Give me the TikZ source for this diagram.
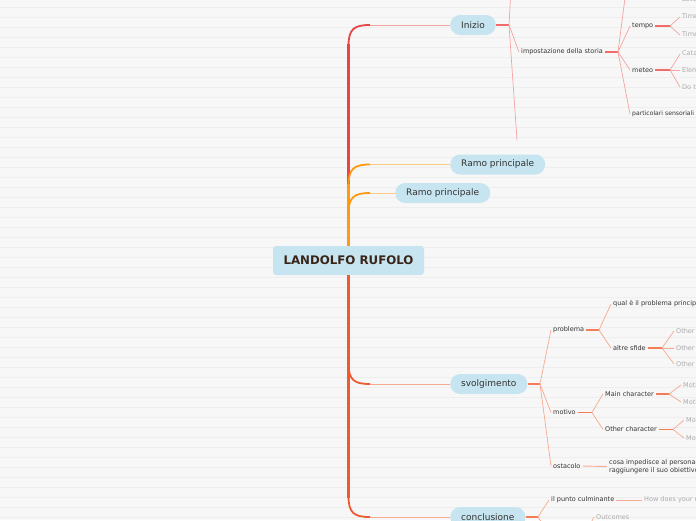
\documentclass[tikz,border=0pt]{standalone}
\usepackage{fontspec}
\setmainfont{DejaVu Sans}
\definecolor{bg}{HTML}{F7F7F7}
\definecolor{stripe}{HTML}{EEEEEE}
\definecolor{nodeblue}{HTML}{C6E5F0}
\definecolor{txt}{HTML}{333333}
\definecolor{ctxt}{HTML}{3A2418}
\definecolor{gtxt}{HTML}{ABABAB}
\definecolor{tred}{HTML}{E84545}
\definecolor{lred}{HTML}{F5A3A0}
\definecolor{sred}{HTML}{F26B6B}
\definecolor{torange}{HTML}{FF9A10}
\definecolor{lorange}{HTML}{FFCB80}
\definecolor{tor}{HTML}{F05A30}
\definecolor{lor}{HTML}{F8AA90}
\definecolor{sor}{HTML}{F47C56}
\begin{document}
\begin{tikzpicture}[x=1pt,y=-1pt,
  centre/.style={fill=nodeblue, text=ctxt, font=\bfseries\fontsize{11.8}{13}\selectfont, minimum width=151pt, minimum height=29pt, inner sep=0pt, rounded corners=3pt},
  mainnode/.style={anchor=west, fill=nodeblue, text=txt, font=\fontsize{9}{10.8}\selectfont, inner xsep=11pt, inner ysep=0pt, minimum height=20pt, rounded corners=10pt},
  sub/.style={anchor=west, inner xsep=2pt, inner ysep=1pt, text=txt, font=\fontsize{6.5}{7.8}\selectfont, align=left},
  leaf/.style={sub, text=gtxt},
  trunkline/.style={line width=3.6pt},
  curveline/.style={line width=1.8pt},
  twig/.style={line width=0.9pt},
  stubline/.style={line width=1.3pt},
  fanline/.style={line width=0.7pt}
]
\useasboundingbox (0,0) rectangle (696,520);
\clip (0,0) rectangle (696,520);
\fill[bg] (0,0) rectangle (696,520);
\foreach \k in {0,...,51} {\fill[stripe] (0,6.7+10*\k) rectangle (696,8+10*\k);}

% nodes
\node[centre] (c) at (348.5,260.5) {LANDOLFO RUFOLO};
\node[mainnode] (inizio) at (450,25) {Inizio};
\node[mainnode] (ramoA) at (450,164.5) {Ramo principale};
\node[mainnode] (ramoB) at (395,193) {Ramo principale};
\node[mainnode] (svolg) at (450,384) {svolgimento};
\node[mainnode] (concl) at (450,517) {conclusione};

% main branches
\coordinate (bI) at (348.5,44);
\coordinate (hI) at (370,25);
\draw[tred,trunkline] (c.north -| bI) -- (bI);
\draw[tred,curveline] (348.5,46) .. controls (348.5,29) and (354,25) .. (hI);
\draw[lred,twig] (hI) -- (inizio.west);

\coordinate (bA) at (348.5,184);
\coordinate (hA) at (370,164.5);
\draw[torange,trunkline] (c.north -| bA) -- (bA);
\draw[torange,curveline] (348.5,186) .. controls (348.5,168.5) and (354,164.5) .. (hA);
\draw[lorange,twig] (hA) -- (ramoA.west);

\coordinate (bB) at (348.5,212);
\coordinate (hB) at (370,193);
\draw[torange,trunkline] (c.north -| bB) -- (bB);
\draw[torange,curveline] (348.5,214) .. controls (348.5,197) and (354,193) .. (hB);
\draw[lorange,twig] (hB) -- (ramoB.west);

\coordinate (bS) at (348.5,365);
\coordinate (hS) at (370,384);
\draw[tor,trunkline] (c.south -| bS) -- (bS);
\draw[tor,curveline] (348.5,363) .. controls (348.5,380) and (354,384) .. (hS);
\draw[lor,twig] (hS) -- (svolg.west);

\coordinate (bC) at (348.5,498);
\coordinate (hC) at (370,517);
\draw[tor,trunkline] (c.south -| bC) -- (bC);
\draw[tor,curveline] (348.5,496) .. controls (348.5,513) and (354,517) .. (hC);
\draw[lor,twig] (hC) -- (concl.west);

% ---------- Inizio subtree
\node[sub] (impost) at (519,52) {impostazione della storia};
\node[sub] (tempo) at (630,26) {tempo};
\node[sub] (meteo) at (630,70) {meteo};
\node[sub, font=\fontsize{6.1}{7.3}\selectfont] (partic) at (630,114) {particolari sensoriali};
\node[leaf] (loca) at (680,-1) {Location};
\node[leaf] (timeA) at (680,17) {Time period};
\node[leaf] (timeB) at (680,35) {Time of day};
\node[leaf] (cata) at (680,54) {Catastrophes};
\node[leaf] (elem) at (680,70) {Elements};
\node[leaf] (dot) at (680,87) {Do the weather};

\coordinate (j1) at (509,25);
\coordinate (t1) at (510.5,-2);
\coordinate (e1) at (517,140);
\draw[sred,stubline] (inizio.east) -- (j1);
\draw[lred,fanline] (j1) -- (t1);
\draw[lred,fanline] (j1) -- (impost.west);
\draw[lred,fanline] (j1) -- (e1);

\coordinate (j2) at (618,52);
\coordinate (t2) at (625,-2);
\draw[sred,stubline] (impost.east) -- (j2);
\draw[lred,fanline] (j2) -- (t2);
\draw[lred,fanline] (j2) -- (tempo.west);
\draw[lred,fanline] (j2) -- (meteo.west);
\draw[lred,fanline] (j2) -- (partic.west);

\coordinate (j0) at (670,-18);
\draw[lred,fanline] (j0) -- (loca.west);

\coordinate (j3) at (670,26);
\draw[sred,stubline] (tempo.east) -- (j3);
\draw[lred,fanline] (j3) -- (timeA.west);
\draw[lred,fanline] (j3) -- (timeB.west);

\coordinate (j4) at (670,70);
\draw[sred,stubline] (meteo.east) -- (j4);
\draw[lred,fanline] (j4) -- (cata.west);
\draw[lred,fanline] (j4) -- (elem.west);
\draw[lred,fanline] (j4) -- (dot.west);

% ---------- Svolgimento subtree
\node[sub] (probl) at (551,330) {problema};
\node[sub] (motivo) at (551,412.5) {motivo};
\node[sub] (ostac) at (551,466) {ostacolo};
\node[sub] (qual) at (611,304) {qual è il problema principale?};
\node[sub] (altre) at (611,348) {altre sfide};
\node[leaf] (othA) at (674,331) {Other};
\node[leaf] (othB) at (674,348) {Other};
\node[leaf] (othC) at (674,364) {Other};
\node[sub] (mainc) at (603,394) {Main character};
\node[sub] (otherc) at (603,429.5) {Other character};
\node[leaf] (motA) at (681,385) {Motivation};
\node[leaf] (motB) at (681,402) {Motivation};
\node[leaf] (motC) at (684,420) {Motivation};
\node[leaf] (motD) at (684,438) {Motivation};
\node[sub] (cosa) at (607,466.5) {cosa impedisce al personaggio di\\raggiungere il suo obiettivo?};

\coordinate (j5) at (540,384);
\draw[sor,stubline] (svolg.east) -- (j5);
\draw[lor,fanline] (j5) -- (probl.west);
\draw[lor,fanline] (j5) -- (motivo.west);
\draw[lor,fanline] (j5) -- (ostac.west);

\coordinate (j6) at (599,330);
\draw[sor,stubline] (probl.east) -- (j6);
\draw[lor,fanline] (j6) -- (qual.west);
\draw[lor,fanline] (j6) -- (altre.west);

\coordinate (j7) at (662,348);
\draw[sor,stubline] (altre.east) -- (j7);
\draw[lor,fanline] (j7) -- (othA.west);
\draw[lor,fanline] (j7) -- (othB.west);
\draw[lor,fanline] (j7) -- (othC.west);

\coordinate (j8) at (592,412.5);
\draw[sor,stubline] (motivo.east) -- (j8);
\draw[lor,fanline] (j8) -- (mainc.west);
\draw[lor,fanline] (j8) -- (otherc.west);

\coordinate (j9) at (669,394);
\draw[sor,stubline] (mainc.east) -- (j9);
\draw[lor,fanline] (j9) -- (motA.west);
\draw[lor,fanline] (j9) -- (motB.west);

\coordinate (j10) at (673,429.5);
\draw[sor,stubline] (otherc.east) -- (j10);
\draw[lor,fanline] (j10) -- (motC.west);
\draw[lor,fanline] (j10) -- (motD.west);

\draw[lor,twig] (ostac.east) -- (cosa.west);

% ---------- Conclusione subtree
\node[sub] (culm) at (549,500) {il punto culminante};
\node[leaf] (how) at (642,500) {How does your resolution happen?};
\node[leaf] (outc) at (594,517) {Outcomes};
\coordinate (j11) at (538,517);
\coordinate (d11) at (548,532);
\coordinate (j12) at (585,534);
\draw[sor,stubline] (concl.east) -- (j11);
\draw[lor,fanline] (j11) -- (culm.west);
\draw[lor,fanline] (j11) -- (d11);
\draw[lor,twig] (culm.east) -- (how.west);
\draw[lor,fanline] (j12) -- (outc.west);
\end{tikzpicture}
\end{document}
